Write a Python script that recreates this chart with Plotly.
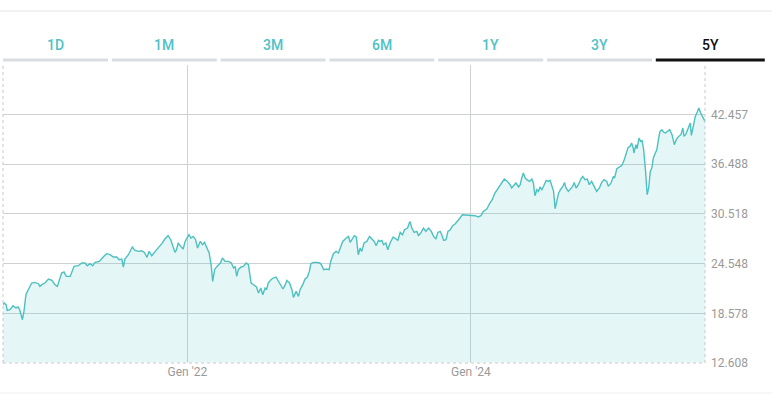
import plotly.graph_objects as go

# ---------------- data ----------------
dates = [
 "2020-09-13","2020-09-16","2020-09-21","2020-09-24","2020-10-01","2020-10-09","2020-10-16","2020-10-22","2020-10-26","2020-10-30",
 "2020-11-02","2020-11-06","2020-11-11","2020-11-17","2020-11-26","2020-12-04","2020-12-13","2020-12-17","2020-12-22","2020-12-30",
 "2021-01-08","2021-01-17","2021-01-25","2021-01-31","2021-02-05","2021-02-11","2021-02-17","2021-02-23","2021-03-05","2021-03-09",
 "2021-03-15","2021-03-26","2021-04-04","2021-04-12","2021-04-18","2021-04-25","2021-05-02","2021-05-08","2021-05-19","2021-05-29",
 "2021-06-07","2021-06-16","2021-06-24","2021-07-03","2021-07-09","2021-07-16","2021-07-20","2021-07-24","2021-08-02","2021-08-12",
 "2021-08-19","2021-08-28","2021-09-05","2021-09-12","2021-09-19","2021-09-24","2021-10-01","2021-10-10","2021-10-18","2021-10-27",
 "2021-11-04","2021-11-12","2021-11-19","2021-11-25","2021-11-30","2021-12-04","2021-12-08","2021-12-15","2021-12-21","2021-12-26",
 "2021-12-30","2022-01-05","2022-01-10","2022-01-16","2022-01-22","2022-01-27","2022-02-03","2022-02-09","2022-02-14","2022-02-20",
 "2022-02-26","2022-03-03","2022-03-07","2022-03-12","2022-03-18","2022-03-27","2022-04-01","2022-04-08","2022-04-17","2022-04-24",
 "2022-04-30","2022-05-04","2022-05-08","2022-05-12","2022-05-19","2022-05-25","2022-06-01","2022-06-07","2022-06-11","2022-06-14",
 "2022-06-20","2022-06-24","2022-06-28","2022-07-03","2022-07-09","2022-07-14","2022-07-20","2022-07-24","2022-07-28","2022-08-04",
 "2022-08-10","2022-08-17","2022-08-23","2022-08-29","2022-09-04","2022-09-10","2022-09-14","2022-09-21","2022-09-27","2022-10-01",
 "2022-10-08","2022-10-14","2022-10-18","2022-10-25","2022-10-31","2022-11-06","2022-11-11","2022-11-15","2022-11-21","2022-11-30",
 "2022-12-08","2022-12-12","2022-12-18","2022-12-25","2023-01-01","2023-01-05","2023-01-12","2023-01-19","2023-01-25","2023-01-31",
 "2023-02-05","2023-02-14","2023-02-20","2023-02-24","2023-03-01","2023-03-07","2023-03-12","2023-03-15","2023-03-17","2023-03-22",
 "2023-03-26","2023-04-01","2023-04-08","2023-04-15","2023-04-21","2023-04-27","2023-05-02","2023-05-08","2023-05-12","2023-05-17",
 "2023-05-21","2023-05-27","2023-06-01","2023-06-07","2023-06-15","2023-06-21","2023-06-27","2023-07-03","2023-07-09","2023-07-14",
 "2023-07-22","2023-07-28","2023-08-02","2023-08-08","2023-08-15","2023-08-19","2023-08-26","2023-09-01","2023-09-07","2023-09-14",
 "2023-09-21","2023-09-27","2023-10-03","2023-10-08","2023-10-14","2023-10-18","2023-10-23","2023-10-29","2023-11-03","2023-11-09",
 "2023-11-15","2023-11-22","2023-11-29","2023-12-04","2023-12-10","2023-12-21","2024-01-02","2024-01-12","2024-01-20","2024-01-27",
 "2024-02-02","2024-02-11","2024-02-19","2024-02-25","2024-03-03","2024-03-10","2024-03-18","2024-03-27","2024-04-04","2024-04-11",
 "2024-04-15","2024-04-21","2024-04-26","2024-05-03","2024-05-07","2024-05-11","2024-05-15","2024-05-20","2024-05-24","2024-05-31",
 "2024-06-06","2024-06-10","2024-06-14","2024-06-19","2024-06-23","2024-06-27","2024-07-02","2024-07-08","2024-07-13","2024-07-19",
 "2024-07-23","2024-07-28","2024-08-01","2024-08-05","2024-08-09","2024-08-14","2024-08-20","2024-08-25","2024-08-29","2024-09-02",
 "2024-09-08","2024-09-14","2024-09-19","2024-09-23","2024-09-28","2024-10-04","2024-10-10","2024-10-15","2024-10-21","2024-10-27",
 "2024-11-01","2024-11-07","2024-11-13","2024-11-20","2024-11-27","2024-12-03","2024-12-09","2024-12-16","2024-12-20","2024-12-27",
 "2025-01-02","2025-01-05","2025-01-11","2025-01-18","2025-01-24","2025-01-30","2025-02-05","2025-02-09","2025-02-14","2025-02-18",
 "2025-02-22","2025-02-24","2025-03-01","2025-03-04","2025-03-09","2025-03-13","2025-03-17","2025-03-21","2025-03-26","2025-03-30",
 "2025-04-03","2025-04-07","2025-04-11","2025-04-15","2025-04-20","2025-04-24","2025-04-28","2025-05-02","2025-05-07","2025-05-11",
 "2025-05-16","2025-05-22","2025-05-27","2025-06-02","2025-06-08","2025-06-13","2025-06-19","2025-06-25","2025-06-30","2025-07-03",
 "2025-07-08","2025-07-14","2025-07-19","2025-07-22","2025-07-27","2025-08-01","2025-08-06","2025-08-10","2025-08-15","2025-08-20",
 "2025-08-23","2025-08-26",
]
values = [
 19611,19815,19611,18926,19010,19491,19215,19335,19010,18410,
 17809,18806,20812,21413,22218,22290,22133,21809,22013,22218,
 22698,22530,22013,21809,22614,23419,23539,23010,23010,23611,
 24212,24296,24620,24620,24296,24536,24296,24692,24812,25341,
 25737,25617,25341,25341,25016,25100,24140,25100,25617,26542,
 26134,26013,26097,25893,25293,26013,25497,26013,26422,26938,
 27503,27899,27419,26542,25893,26218,27022,26614,26302,27215,
 27503,28019,27623,27815,27419,26422,27215,26818,27094,26422,
 25821,24416,22410,23815,24212,24620,25221,24812,24812,24620,
 24019,24212,23010,23815,24140,24212,24620,24416,23419,22218,
 22013,21809,21737,21016,21617,20812,21617,21413,22218,22614,
 22818,22938,22410,22013,21497,22013,22530,22218,21413,20488,
 21209,20608,21413,22013,22698,22938,23611,24536,24692,24692,
 24620,24416,23815,23899,23815,24812,25737,26013,25821,26614,
 27215,27623,27815,27094,27419,27899,27743,26614,25617,26422,
 26013,27022,27215,27815,27503,27215,26698,27335,27215,27335,
 26818,27022,26218,27022,27743,27503,27335,28296,28019,28620,
 28824,29617,28824,28296,28416,27899,28296,28824,28416,28824,
 28416,27815,27503,28296,28416,28019,27335,27419,28416,28620,
 29100,29341,29701,30025,30422,30386,30422,30302,30146,30302,
 30818,31106,31827,32224,33028,33509,34146,34710,34422,34025,
 33629,34025,34230,33749,34025,34830,35431,34830,34626,34422,
 34710,34230,32704,33425,33221,33749,33425,34025,34542,34422,
 34542,33821,33221,31143,32019,33028,33509,33821,34302,33629,
 33221,33509,33821,34302,33629,34025,34710,35022,34626,34710,
 34025,34422,33821,33221,33629,34302,34626,34422,33821,34230,
 35022,34830,35947,36224,36344,37028,38025,38506,38626,39034,
 38434,37833,38830,38350,39635,39227,39311,38230,35623,32824,
 33629,35623,36031,37233,37833,38230,39431,40428,40632,40356,
 40236,40428,40632,40031,38830,39431,39827,40031,40836,39827,
 40115,40836,41437,39947,41233,42230,42758,43239,42638,42230,
 41953,41629,
]

y_tick_vals = [12608, 18578, 24548, 30518, 36488, 42457]
y_tick_text = ["12.608", "18.578", "24.548", "30.518", "36.488", "42.457"]
x_tick_vals = ["2022-01-01", "2024-01-01"]
x_tick_text = ["Gen '22", "Gen '24"]
tabs = ["1D", "1M", "3M", "6M", "1Y", "3Y", "5Y"]
selected_tab = "5Y"

# ---------------- layout geometry (pixels) ----------------
W_FIG, H_FIG = 772, 394
L, R, T, B = 3, 705, 65, 363          # plot area edges in px
PW, PH = R - L, B - T


def px(x):
    return (x - L) / PW


def py(y):
    return (B - y) / PH


LINE_COLOR = "#4dc0c0"
TAB_COLOR = "#4fc2c6"
GRID = "#cfd2d4"
TXT = "#9a9a9a"

fig = go.Figure()
fig.add_trace(go.Scatter(
    x=dates, y=values, mode="lines",
    line=dict(color=LINE_COLOR, width=1.4),
    fill="tozeroy", fillcolor="rgba(77,192,192,0.15)",
    hoverinfo="skip", showlegend=False,
))

shapes = []
# top thin separator and bottom separator
shapes.append(dict(type="line", xref="paper", yref="paper", x0=px(0), x1=px(W_FIG),
                   y0=py(11), y1=py(11), line=dict(color="#e2e2e2", width=1)))
shapes.append(dict(type="line", xref="paper", yref="paper", x0=px(0), x1=px(W_FIG),
                   y0=py(393), y1=py(393), line=dict(color="#eeeeee", width=1)))
# tabs underlines
annotations = []
step, tw = 108.8, 105
for i, t in enumerate(tabs):
    x0 = 3 + i * step
    x1 = x0 + tw + (4 if t == selected_tab else 0)
    sel = t == selected_tab
    shapes.append(dict(type="line", xref="paper", yref="paper", x0=px(x0), x1=px(x1),
                       y0=py(60), y1=py(60),
                       line=dict(color="#111111" if sel else "#d9dee1", width=3)))
    annotations.append(dict(text=t, xref="paper", yref="paper", x=px((x0 + x1) / 2), y=py(45),
                            showarrow=False, xanchor="center", yanchor="middle",
                            font=dict(family="Roboto", size=14, weight=500,
                                      color="#111111" if sel else TAB_COLOR)))
# dotted plot borders (bottom, left, right)
shapes.append(dict(type="line", xref="paper", yref="paper", x0=0, x1=1, y0=0, y1=0,
                   line=dict(color="white", width=1.2), layer="above"))
for (x0, x1, y0, y1) in [(0, 1, 0, 0), (0, 0, 0, 1), (1, 1, 0, 1)]:
    shapes.append(dict(type="line", xref="paper", yref="paper", x0=x0, x1=x1, y0=y0, y1=y1,
                       line=dict(color="#c8c8c8", width=1, dash="dot"), layer="above"))

fig.update_layout(
    width=W_FIG, height=H_FIG, autosize=False,
    margin=dict(l=L, r=W_FIG - R, t=T, b=H_FIG - B, pad=0),
    paper_bgcolor="white", plot_bgcolor="white",
    font=dict(family="Roboto", color=TXT, size=12),
    shapes=shapes, annotations=annotations,
    xaxis=dict(range=[dates[0], dates[-1]], tickvals=x_tick_vals, ticktext=x_tick_text,
               showgrid=True, gridcolor=GRID, gridwidth=1, zeroline=False, showline=False,
               ticks="", tickfont=dict(size=12, color=TXT), fixedrange=True),
    yaxis=dict(range=[12608, 12608 + PH * 120.12], side="right", tickvals=y_tick_vals,
               ticktext=y_tick_text, showgrid=True, gridcolor=GRID, gridwidth=1,
               zeroline=False, showline=False, ticks="", ticklabelstandoff=5,
               tickfont=dict(size=12, color=TXT), fixedrange=True),
)

fig.write_html("out.html", config={"displayModeBar": False, "staticPlot": True},
               post_script="document.body.style.margin='0';")
